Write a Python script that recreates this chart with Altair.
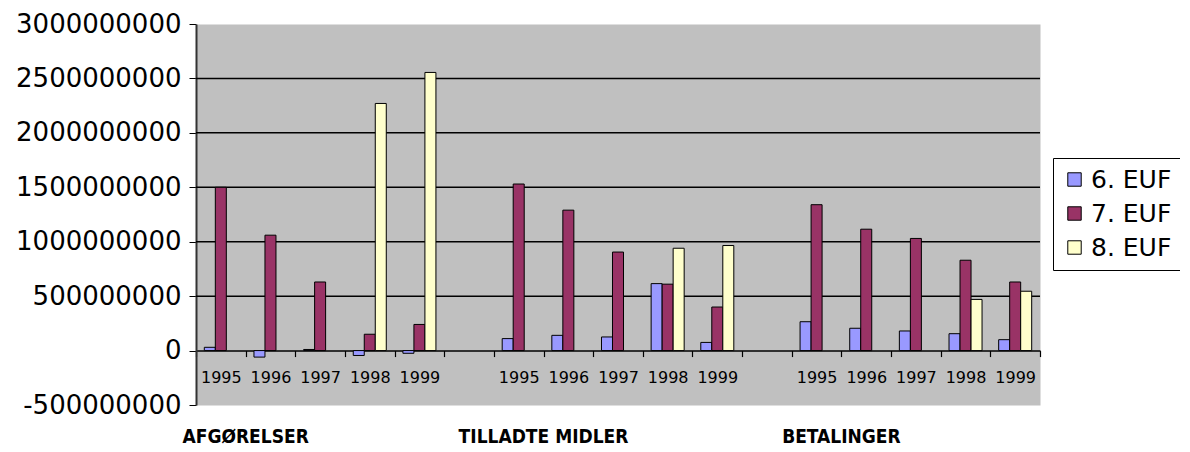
import altair as alt
import pandas as pd

years = ["1995", "1996", "1997", "1998", "1999"]
groups = ["AFGØRELSER", "TILLADTE MIDLER", "BETALINGER"]
group_keys = ["A", "B", "C"]
series = ["6. EUF", "7. EUF", "8. EUF"]
colors = ["#9999ff", "#993366", "#ffffcc"]

# values per series, per group (1995..1999)
euf6 = {
    "A": [30e6, -60e6, 10e6, -45e6, -25e6],
    "B": [110e6, 140e6, 125e6, 615e6, 75e6],
    "C": [265e6, 205e6, 180e6, 155e6, 100e6],
}
euf7 = {
    "A": [1500e6, 1060e6, 630e6, 150e6, 240e6],
    "B": [1530e6, 1290e6, 905e6, 610e6, 400e6],
    "C": [1340e6, 1115e6, 1030e6, 830e6, 630e6],
}
euf8 = {
    "A": [None, None, None, 2270e6, 2555e6],
    "B": [None, None, None, 940e6, 965e6],
    "C": [None, None, None, 470e6, 545e6],
}
y_ticks = [-500000000, 0, 500000000, 1000000000, 1500000000,
           2000000000, 2500000000, 3000000000]
grid_values = [500000000, 1000000000, 1500000000, 2000000000, 2500000000]

# slot order: group A years, gap, group B years, gap, group C years
slots = []
for gi, g in enumerate(group_keys):
    slots += [f"{y} {g}" for y in years]
    if gi < len(group_keys) - 1:
        slots.append(" " * (gi + 1))

rows = []
for s, d in zip(series, [euf6, euf7, euf8]):
    for g in group_keys:
        for y, v in zip(years, d[g]):
            if v is not None:
                rows.append({"slot": f"{y} {g}", "series": s, "value": float(v)})
df = pd.DataFrame(rows)

lab_df = pd.DataFrame({"slot": [f"1995 {g}" for g in group_keys], "label": groups})
grid_df = pd.DataFrame({"value": [float(v) for v in grid_values]})

W, H = 844, 381
ymin, ymax = -500000000, 3000000000
zero_offset = round(-H * (0 - ymin) / (ymax - ymin), 2)
step = W / len(slots)

x_axis = alt.Axis(
    title=None, orient="bottom", offset=zero_offset, domain=True,
    domainColor="black", domainWidth=1.5, ticks=True, tickBand="extent",
    tickSize=6, tickColor="black", tickWidth=1.2, labelAngle=0,
    labelFont="DejaVu Sans", labelFontSize=16, labelColor="black",
    labelPadding=13,
    labelExpr="isString(datum.value) ? slice(datum.value, 0, 4) : ''",
    grid=False,
)
x_scale = alt.Scale(domain=slots, paddingInner=0, paddingOuter=0)
y_scale = alt.Scale(domain=[ymin, ymax], nice=False, zero=False)
y_axis = alt.Axis(
    title=None, values=y_ticks,
    labelExpr="isNumber(datum.value) ? '' + datum.value : ''",
    labelFont="DejaVu Sans", labelFontSize=26, labelColor="black",
    tickSize=7, tickColor="black", labelPadding=8, domainColor="#333333",
    domainWidth=2, grid=False, labelOverlap=False,
)

grid = alt.Chart(grid_df).mark_rule(color="black", strokeWidth=1.5).encode(
    y=alt.Y("value:Q", scale=y_scale, axis=y_axis),
)

bars = alt.Chart(df).mark_bar(stroke="black", strokeWidth=1).encode(
    x=alt.X("slot:N", scale=x_scale, axis=x_axis),
    xOffset=alt.XOffset("series:N", scale=alt.Scale(domain=series, paddingOuter=0.755, paddingInner=0)),
    y=alt.Y("value:Q", scale=y_scale, axis=y_axis),
    color=alt.Color(
        "series:N",
        scale=alt.Scale(domain=series, range=colors),
        legend=alt.Legend(
            title=None, orient="none", legendX=857, legendY=134,
            symbolType="square", symbolSize=180, symbolStrokeColor="black",
            symbolStrokeWidth=1, labelFont="DejaVu Sans", labelFontSize=25,
            labelColor="black", rowPadding=8, padding=9, fillColor="white",
            strokeColor="black",
        ),
    ),
)

labels = alt.Chart(lab_df).mark_text(
    font="DejaVu Sans Condensed",
    fontSize=19, fontWeight="bold", color="black", align="center",
    baseline="middle", dx=step / 2,
).encode(
    x=alt.X("slot:N", scale=x_scale, axis=x_axis),
    y=alt.value(413),
    text="label:N",
)

chart = alt.layer(grid, bars, labels).properties(
    width=W, height=H,
    autosize=alt.AutoSizeParams(type="none"),
    padding={"left": 188, "top": 16, "right": 140, "bottom": 44},
    background="white",
).configure_view(fill="#c0c0c0", stroke="transparent")

chart.save("out.html", embed_options={"renderer": "svg", "actions": False})
